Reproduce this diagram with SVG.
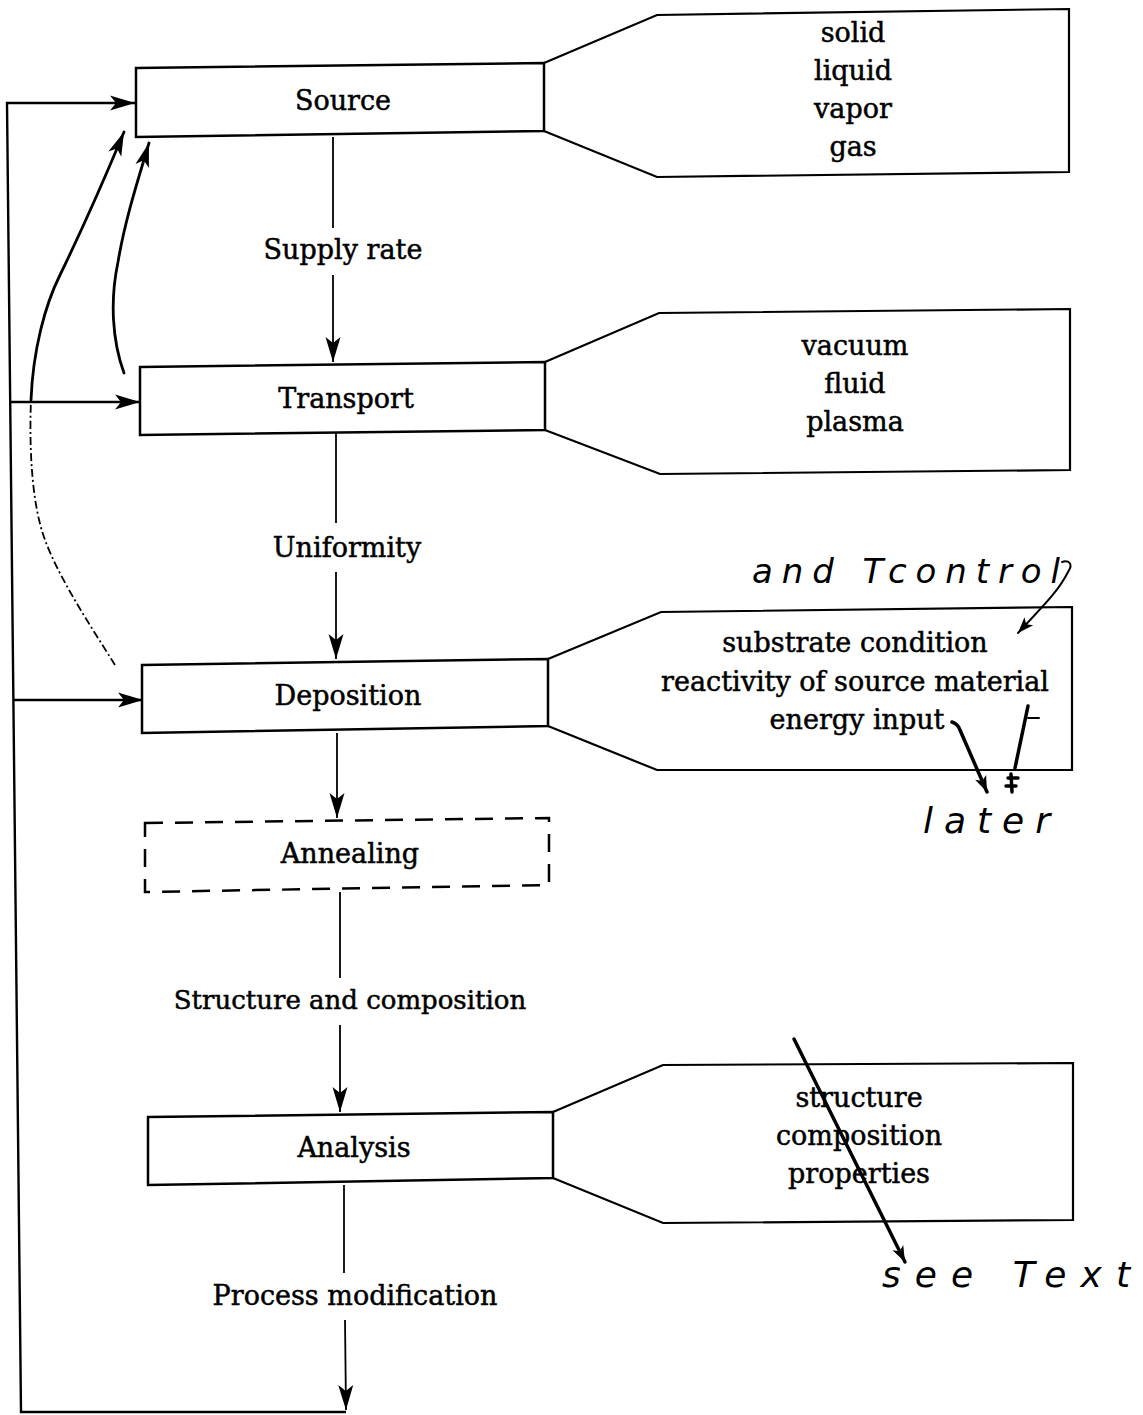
<svg xmlns="http://www.w3.org/2000/svg" width="1143" height="1415" viewBox="0 0 1143 1415">
<defs>
<style>
.box{fill:#fff;stroke:#000;stroke-width:2.5;stroke-linejoin:miter}
.dbox{fill:#fff;stroke:#000;stroke-width:2.5;stroke-dasharray:18 12}
.call{fill:none;stroke:#000;stroke-width:2.2;stroke-linejoin:miter}
.ln{fill:none;stroke:#000;stroke-width:1.8}
.fb{fill:none;stroke:#000;stroke-width:2.4}
.hc{fill:none;stroke:#000;stroke-width:2.8;stroke-linecap:round}
.hd{fill:none;stroke:#000;stroke-width:1.8;stroke-dasharray:8 3 2 3}
.hw{fill:none;stroke:#000;stroke-width:2;stroke-linecap:round}
.hwb{fill:none;stroke:#000;stroke-width:3.5;stroke-linecap:round}
.t{font-family:"DejaVu Serif","Liberation Serif",serif;font-size:27px;fill:#000;stroke:#000;stroke-width:0.5;text-anchor:middle}
.h{font-family:"DejaVu Sans","Liberation Sans",sans-serif;font-style:italic;font-size:34px;fill:#000}
</style>
<marker id="ah" viewBox="-26 -8 28 16" refX="0" refY="0" markerWidth="28" markerHeight="16" markerUnits="userSpaceOnUse" orient="auto">
<path d="M0,0 L-25,-7.5 L-19,0 L-25,7.5 Z" fill="#000"/>
</marker>
<marker id="ahc" viewBox="-26 -8 28 16" refX="0" refY="0" markerWidth="28" markerHeight="16" markerUnits="userSpaceOnUse" orient="auto">
<path d="M0,0 L-24,-7 L-18,0 L-24,7 Z" fill="#000"/>
</marker>
<marker id="ahs" viewBox="-18 -7 20 14" refX="0" refY="0" markerWidth="20" markerHeight="14" markerUnits="userSpaceOnUse" orient="auto">
<path d="M0,0 L-16,-6 L-12,0 L-16,6 Z" fill="#000"/>
</marker>
</defs>
<rect width="1143" height="1415" fill="#fff"/>

<g id="connectors">
<path class="ln" d="M333,137 L333,228"/>
<path class="ln" d="M333,275 L333,362" marker-end="url(#ah)"/>
<path class="ln" d="M336,433 L336,523"/>
<path class="ln" d="M336,572 L336,659" marker-end="url(#ah)"/>
<path class="ln" d="M337,733 L337,818" marker-end="url(#ah)"/>
<path class="ln" d="M340,892 L340,978"/>
<path class="ln" d="M340,1025 L340,1112" marker-end="url(#ah)"/>
<path class="ln" d="M344,1185 L344,1273"/>
<path class="ln" d="M345,1320 L346,1410" marker-end="url(#ah)"/>
<path class="fb" d="M346,1412 L21,1412 L7,103 L135,103" marker-end="url(#ah)"/>
<path class="fb" d="M10,402 L140,402" marker-end="url(#ah)"/>
<path class="fb" d="M13,700 L143,700" marker-end="url(#ah)"/>
<path class="hc" d="M31,400 C33,350 45,305 60,275 C78,238 104,180 124,132" marker-end="url(#ahc)"/>
<path class="hd" d="M115,665 C90,625 60,580 45,540 C32,505 29,450 31,400"/>
<path class="hc" d="M124,373 C112,340 110,300 118,262 C125,220 138,180 149,143" marker-end="url(#ahc)"/>
</g>

<g id="source">
<polygon class="box" points="136,68 544,63 544,131 136,137"/>
<text class="t" x="343" y="110">Source</text>
</g>
<g id="source-states">
<polyline class="call" points="544,63 657,15 1069,9 1069,172 657,177 544,131"/>
<text class="t" x="853" y="42">solid</text>
<text class="t" x="853" y="80">liquid</text>
<text class="t" x="853" y="118">vapor</text>
<text class="t" x="853" y="156">gas</text>
</g>
<g id="label-supply"><text class="t" x="343" y="259">Supply rate</text></g>

<g id="transport">
<polygon class="box" points="140,367 545,362 545,430 140,435"/>
<text class="t" x="346" y="408">Transport</text>
</g>
<g id="transport-media">
<polyline class="call" points="545,362 659,313 1070,309 1070,470 660,474 545,430"/>
<text class="t" x="855" y="355">vacuum</text>
<text class="t" x="855" y="393">fluid</text>
<text class="t" x="855" y="431">plasma</text>
</g>
<g id="label-uniformity"><text class="t" x="347" y="557">Uniformity</text></g>

<g id="deposition">
<polygon class="box" points="142,665 548,659 548,726 142,733"/>
<text class="t" x="348" y="705">Deposition</text>
</g>
<g id="deposition-factors">
<polyline class="call" points="548,659 661,612 1072,607 1072,770 657,770 548,726"/>
<text class="t" x="855" y="652">substrate condition</text>
<text class="t" x="855" y="691">reactivity of source material</text>
<text class="t" x="857" y="729">energy input</text>
</g>

<g id="annealing">
<polygon class="dbox" points="145,823 549,818 549,885 145,892"/>
<text class="t" x="350" y="863">Annealing</text>
</g>
<g id="label-structure"><text class="t" x="350" y="1009" style="font-size:26px">Structure and composition</text></g>

<g id="analysis">
<polygon class="box" points="148,1117 553,1112 553,1178 148,1185"/>
<text class="t" x="354" y="1157">Analysis</text>
</g>
<g id="analysis-results">
<polyline class="call" points="553,1112 663,1065 1073,1063 1073,1220 663,1223 553,1178"/>
<text class="t" x="859" y="1107">structure</text>
<text class="t" x="859" y="1145">composition</text>
<text class="t" x="859" y="1183">properties</text>
</g>
<g id="label-process"><text class="t" x="355" y="1305">Process modification</text></g>

<g id="annotations">
<text class="h" x="752" y="583" textLength="308" lengthAdjust="spacing">and Tcontrol</text>
<path class="hw" d="M1062,562 C1068,560 1074,563 1068,572 C1058,592 1042,607 1018,633" marker-end="url(#ahs)"/>
<path class="hwb" d="M952,722 Q958,724 960,730 L987,792" marker-end="url(#ahs)"/>
<path class="hwb" d="M1028,706 L1015,768"/>
<path class="hw" d="M1028,718 L1039,718"/>
<path class="hwb" d="M1008,778 L1018,778 M1006,786 L1016,786 M1011,774 L1012,792"/>
<text class="h" x="923" y="833" style="font-size:36px" textLength="127" lengthAdjust="spacing">later</text>
<path class="hwb" d="M794,1039 L905,1262" marker-end="url(#ahs)"/>
<text class="h" x="882" y="1287" style="font-size:36px" textLength="248" lengthAdjust="spacing">see Text</text>
</g>
</svg>
